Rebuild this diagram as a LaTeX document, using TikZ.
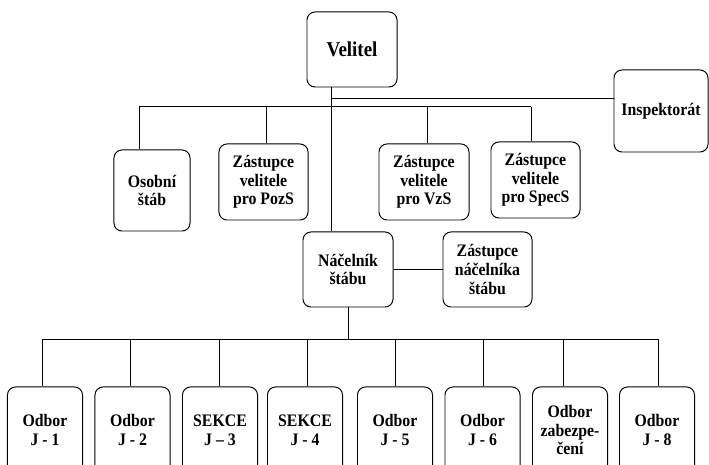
\documentclass[tikz,border=0pt]{standalone}
\usepackage{fontspec}
\setmainfont{Liberation Serif}[FakeStretch=0.9]
\usetikzlibrary{calc}

\begin{document}
\begin{tikzpicture}[x=0.025cm, y=0.025cm,
    box/.style={draw, line width=0.7pt, rounded corners=0.2cm, align=center, inner sep=1pt,
      font=\bfseries\fontsize{12.5}{13.3}\selectfont},
    unit/.style={box, minimum width=1.875cm, minimum height=2.15cm},
    link/.style={line width=0.7pt}]
    \useasboundingbox (0,0) rectangle (709,465);

    % Velitel and Inspektorat
    \node[box, minimum width=2.25cm, minimum height=1.875cm, font=\bfseries\fontsize{15}{18}\selectfont] (velitel) at (352, 415.5) {Velitel};
    \node[box, minimum width=2.35cm, minimum height=2.05cm] (insp) at (661, 354) {Inspektorát};

    % Second row
    \node[box, minimum width=1.9cm, minimum height=2.025cm] (osobni) at (152, 274.5) {Osobní\\štáb};
    \node[box, minimum width=2.225cm, minimum height=1.9cm] (pozs) at (263.5, 283) {Zástupce\\velitele\\pro PozS};
    \node[box, minimum width=2.25cm, minimum height=1.9cm] (vzs) at (424, 283) {Zástupce\\velitele\\pro VzS};
    \node[box, minimum width=2.225cm, minimum height=1.9cm] (specs) at (535.5, 285) {Zástupce\\velitele\\pro SpecS};

    % Nacelnik stabu
    \node[box, minimum width=2.25cm, minimum height=1.875cm] (nacelnik) at (348, 195.5) {Náčelník\\štábu};
    \node[box, minimum width=2.225cm, minimum height=1.875cm] (zastnac) at (487.5, 195.5) {Zástupce\\náčelníka\\štábu};

    % Odbory
    \node[unit] (j1) at (45, 35) {Odbor\\J - 1};
    \node[unit] (j2) at (132.5, 35) {Odbor\\J - 2};
    \node[unit] (j3) at (220, 35) {SEKCE\\J – 3};
    \node[unit] (j4) at (305, 35) {SEKCE\\J - 4};
    \node[unit] (j5) at (395, 35) {Odbor\\J - 5};
    \node[unit] (j6) at (482.5, 35) {Odbor\\J - 6};
    \node[unit] (j7) at (570, 35) {Odbor\\zabezpe-\\čení};
    \node[unit] (j8) at (657, 35) {Odbor\\J - 8};

    % Lines from Velitel
    \coordinate (trunk) at (331, 358);
    \coordinate (ilink) at (331, 366);
    \draw[link] (trunk |- velitel.south) -- (trunk |- nacelnik.north);
    \draw[link] (ilink) -- (ilink -| insp.west);
    \draw[link] ($(trunk -| osobni.north)+(-13,0)$) -- ($(trunk -| specs.north)+(-4.5,0)$);
    \foreach \n/\dx in {osobni/-13, pozs/3, vzs/3, specs/-4.5}
        \draw[link] ($(trunk -| \n.north)+(\dx,0)$) -- ($(\n.north)+(\dx,0)$);

    % Lines from Nacelnik
    \coordinate (bus) at (347, 126);
    \draw[link] (nacelnik.east) -- (zastnac.west);
    \draw[link] (nacelnik.south) -- (bus -| nacelnik.south);
    \draw[link] ($(bus -| j1.north)+(-3,0)$) -- ($(bus -| j8.north)+(1,0)$);
    \foreach \n/\dx in {j1/-3, j2/-2, j3/-1, j4/2, j5/0, j6/1, j7/-7, j8/1}
        \draw[link] ($(bus -| \n.north)+(\dx,0)$) -- ($(\n.north)+(\dx,0)$);
\end{tikzpicture}
\end{document}
